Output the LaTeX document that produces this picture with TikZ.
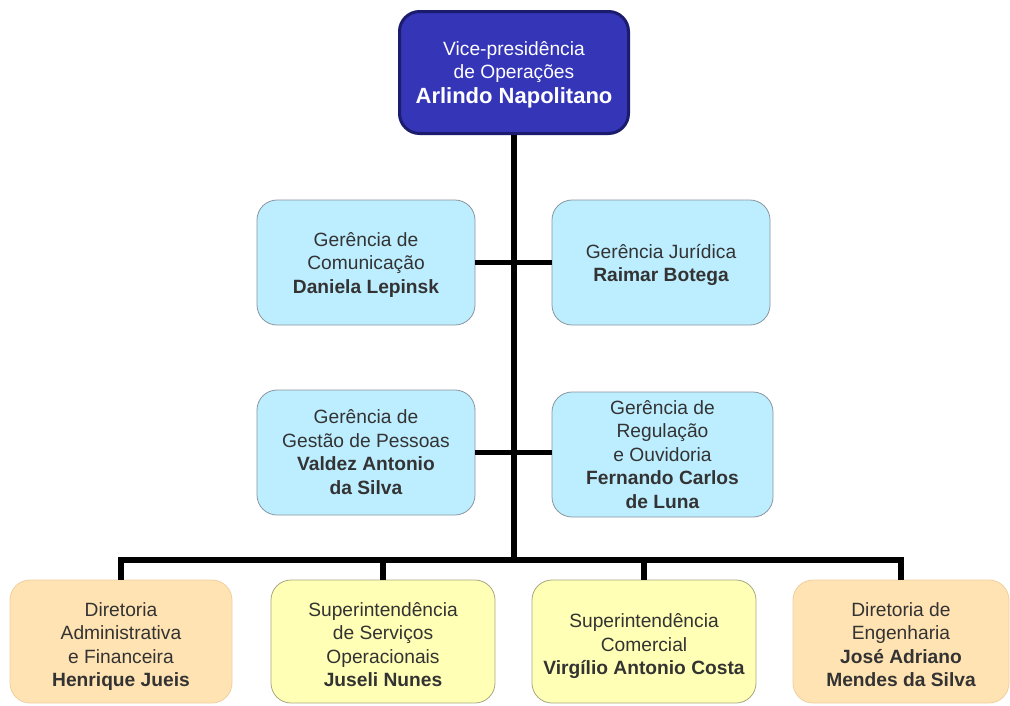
\documentclass[tikz,border=0pt]{standalone}
\usepackage{fontspec}
\setmainfont{Liberation Sans}
\definecolor{topfill}{HTML}{3535B8}
\definecolor{topdraw}{HTML}{1C1C6E}
\definecolor{cyanfill}{HTML}{BDEEFF}
\definecolor{boxdraw}{HTML}{8A96A0}
\definecolor{orangefill}{HTML}{FFE3B3}
\definecolor{orangedraw}{HTML}{F0CFA0}
\definecolor{yellowfill}{HTML}{FFFFB5}
\definecolor{yellowdraw}{HTML}{A8A880}
\definecolor{txt}{HTML}{333333}
\newcommand{\lowtext}[2]{\raisebox{-#1}[\height][\depth]{\begin{tabular}{@{}c@{}}#2\end{tabular}}}
\begin{document}
\begin{tikzpicture}[x=1pt,y=-1pt,
  basebox/.style={rounded corners=20pt, inner sep=0pt, text=txt,
    font=\fontsize{19.2}{23.5}\selectfont},
  topbox/.style={basebox, fill=topfill, draw=topdraw, line width=3pt, text=white,
    minimum width=229pt, minimum height=122pt},
  midbox/.style={basebox, fill=cyanfill, draw=boxdraw, line width=0.8pt,
    minimum width=218pt, minimum height=125pt},
  orangebox/.style={basebox, fill=orangefill, draw=orangedraw, line width=0.8pt,
    minimum width=222pt, minimum height=123pt},
  yellowbox/.style={basebox, fill=yellowfill, draw=yellowdraw, line width=0.8pt,
    minimum width=224pt, minimum height=123pt},
  conn/.style={line width=5.5pt, black}
]
\useasboundingbox (0,0) rectangle (1010,705);
\fill[white] (0,0) rectangle (1010,705);

\coordinate (bus) at (514,560);
\coordinate (busL) at (121,560);
\coordinate (busR) at (901,560);
\coordinate (b2t) at (383,560);
\coordinate (b3t) at (644,560);

\node[topbox] (top) at (514,72.5) {\lowtext{2pt}{Vice-presidência\\de Operações\\[1pt]{\fontsize{22}{24}\selectfont\bfseries Arlindo Napolitano}}};

\node[midbox] (com) at (366,262.5) {\lowtext{2.5pt}{Gerência de\\Comunicação\\{\bfseries Daniela Lepinsk}}};
\node[midbox] (jur) at (661,262.5) {\lowtext{3pt}{Gerência Jurídica\\{\bfseries Raimar Botega}}};
\node[midbox] (pes) at (366,452.5) {\lowtext{2pt}{Gerência de\\Gestão de Pessoas\\{\bfseries Valdez Antonio}\\{\bfseries da Silva}}};
\node[midbox, minimum width=221pt] (reg) at (662.5,454.5) {\lowtext{2pt}{Gerência de\\Regulação\\e Ouvidoria\\{\bfseries Fernando Carlos}\\{\bfseries de Luna}}};

\node[orangebox] (adm) at (121,641.5) {\lowtext{5.5pt}{Diretoria\\Administrativa\\e Financeira\\{\bfseries Henrique Jueis}}};
\node[yellowbox] (ser) at (383,641.5) {\lowtext{5.5pt}{Superintendência\\de Serviços\\Operacionais\\{\bfseries Juseli Nunes}}};
\node[yellowbox] (cmc) at (644,641.5) {\lowtext{5pt}{Superintendência\\Comercial\\{\bfseries Virgílio Antonio Costa}}};
\node[orangebox, minimum width=216pt] (eng) at (901,641.5) {\lowtext{5.5pt}{Diretoria de\\Engenharia\\{\bfseries José Adriano}\\{\bfseries Mendes da Silva}}};

\draw[conn] (top.south) -- (bus);
\draw[conn] (com.east) -- (jur.west);
\draw[conn] (pes.east) -- (reg.west |- pes.east);
\draw[conn, line cap=rect] (busL) -- (busR);
\draw[conn] (busL) -- (adm.north);
\draw[conn] (b2t) -- (ser.north);
\draw[conn] (b3t) -- (cmc.north);
\draw[conn] (busR) -- (eng.north);
\end{tikzpicture}
\end{document}
